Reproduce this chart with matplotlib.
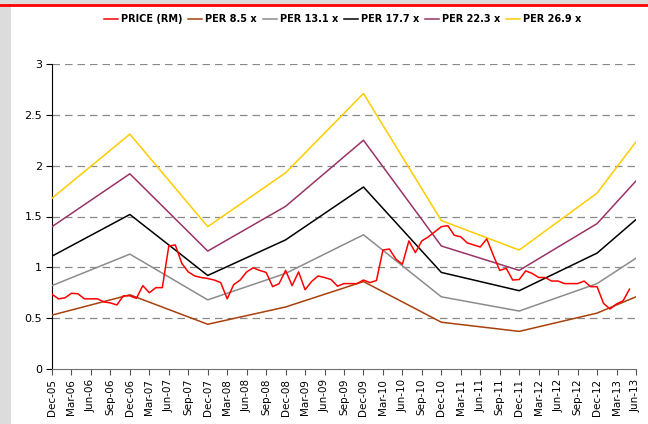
import numpy as np
import pandas as pd
import matplotlib
matplotlib.use("Agg")
import matplotlib.pyplot as plt
from matplotlib.patches import Rectangle
from matplotlib.lines import Line2D

# monthly dates Dec-05 .. Jun-13 (month index 0..90)
months = pd.date_range("2005-12-01", "2013-06-01", freq="MS")
tick_idx = list(range(0, len(months), 3))
tick_labels = [months[i].strftime("%b-%y") for i in tick_idx]

# share price (RM), monthly from Dec-05
price = [0.735, 0.69, 0.70, 0.745, 0.74, 0.69, 0.69, 0.69, 0.66, 0.65,
         0.63, 0.72, 0.72, 0.695, 0.82, 0.75, 0.80, 0.80, 1.21, 1.22,
         1.04, 0.955, 0.915, 0.90, 0.89, 0.875, 0.85, 0.69, 0.83, 0.875,
         0.955, 0.995, 0.97, 0.95, 0.81, 0.84, 0.97, 0.82, 0.955, 0.78,
         0.86, 0.915, 0.90, 0.88, 0.815, 0.84, 0.84, 0.84, 0.875, 0.85,
         0.87, 1.17, 1.18, 1.08, 1.03, 1.26, 1.145, 1.26, 1.30, 1.35,
         1.40, 1.41, 1.315, 1.30, 1.24, 1.22, 1.20, 1.28, 1.12, 0.97,
         0.99, 0.875, 0.88, 0.965, 0.94, 0.90, 0.90, 0.865, 0.865, 0.84,
         0.84, 0.84, 0.865, 0.81, 0.81, 0.645, 0.59, 0.64, 0.67, 0.785]

# PER bands, read at Dec of each year + Jun-13
per_idx = [0, 12, 24, 36, 48, 60, 72, 84, 90]
per_8_5 = [0.53, 0.73, 0.44, 0.61, 0.86, 0.46, 0.37, 0.55, 0.71]
per_13_1 = [0.82, 1.13, 0.68, 0.94, 1.32, 0.71, 0.57, 0.84, 1.09]
per_17_7 = [1.11, 1.52, 0.92, 1.27, 1.79, 0.95, 0.77, 1.14, 1.47]
per_22_3 = [1.40, 1.92, 1.16, 1.60, 2.25, 1.21, 0.97, 1.43, 1.85]
per_26_9 = [1.68, 2.31, 1.40, 1.93, 2.71, 1.46, 1.17, 1.73, 2.235]

series = [
    ("PER 8.5 x", per_8_5, "#A8400C"),
    ("PER 13.1 x", per_13_1, "#8C8C8C"),
    ("PER 17.7 x", per_17_7, "#000000"),
    ("PER 22.3 x", per_22_3, "#993366"),
    ("PER 26.9 x", per_26_9, "#FFCC00"),
]

fig = plt.figure(figsize=(6.48, 4.24), dpi=100, facecolor="white")

# frame decorations: grey strips and red rule at top
fig.patches.append(Rectangle((0, 0), 11 / 648, 1, transform=fig.transFigure,
                             facecolor="#DCDCDC", edgecolor="none", zorder=0))
fig.patches.append(Rectangle((0, 1 - 4 / 424), 1, 4 / 424, transform=fig.transFigure,
                             facecolor="#DCDCDC", edgecolor="none", zorder=0))
fig.lines.append(Line2D([0, 1], [1 - 4.5 / 424, 1 - 4.5 / 424], transform=fig.transFigure,
                        color="#FF0000", lw=2.0))

ax = fig.add_axes([52 / 648, 1 - 369 / 424, (636 - 52) / 648, (369 - 64) / 424])

ax.plot(range(len(price)), price, color="#FF0000", lw=1.1, label="PRICE (RM)", zorder=5)
for name, vals, col in series:
    ax.plot(per_idx, vals, color=col, lw=1.1, label=name, zorder=4)

ax.set_xlim(0, len(months) - 1)
ax.set_ylim(0, 3)
ax.set_yticks(np.arange(0, 3.01, 0.5))
ax.set_yticklabels(["0", "0.5", "1", "1.5", "2", "2.5", "3"])
ax.set_xticks(tick_idx)
ax.set_xticklabels(tick_labels, rotation=90)
ax.tick_params(axis="y", direction="out", length=4, labelsize=8, pad=3)
ax.tick_params(axis="x", direction="out", length=4, labelsize=7.5, pad=3, color="#555555")

for y in np.arange(0.5, 3.01, 0.5):
    ax.axhline(y, color="#8A8A8A", lw=0.9, ls=(0, (6, 4)), zorder=1)

for s in ["top", "right"]:
    ax.spines[s].set_visible(False)
ax.spines["left"].set_color("black")
ax.spines["bottom"].set_color("#707070")

fig.legend(loc="center", bbox_to_anchor=(0.529, 1 - 19 / 424), ncol=6, frameon=False,
           prop={"weight": "bold", "size": 7}, handlelength=1.4, handletextpad=0.35,
           columnspacing=0.6)

fig.savefig("out.png", dpi=100, facecolor="white")
